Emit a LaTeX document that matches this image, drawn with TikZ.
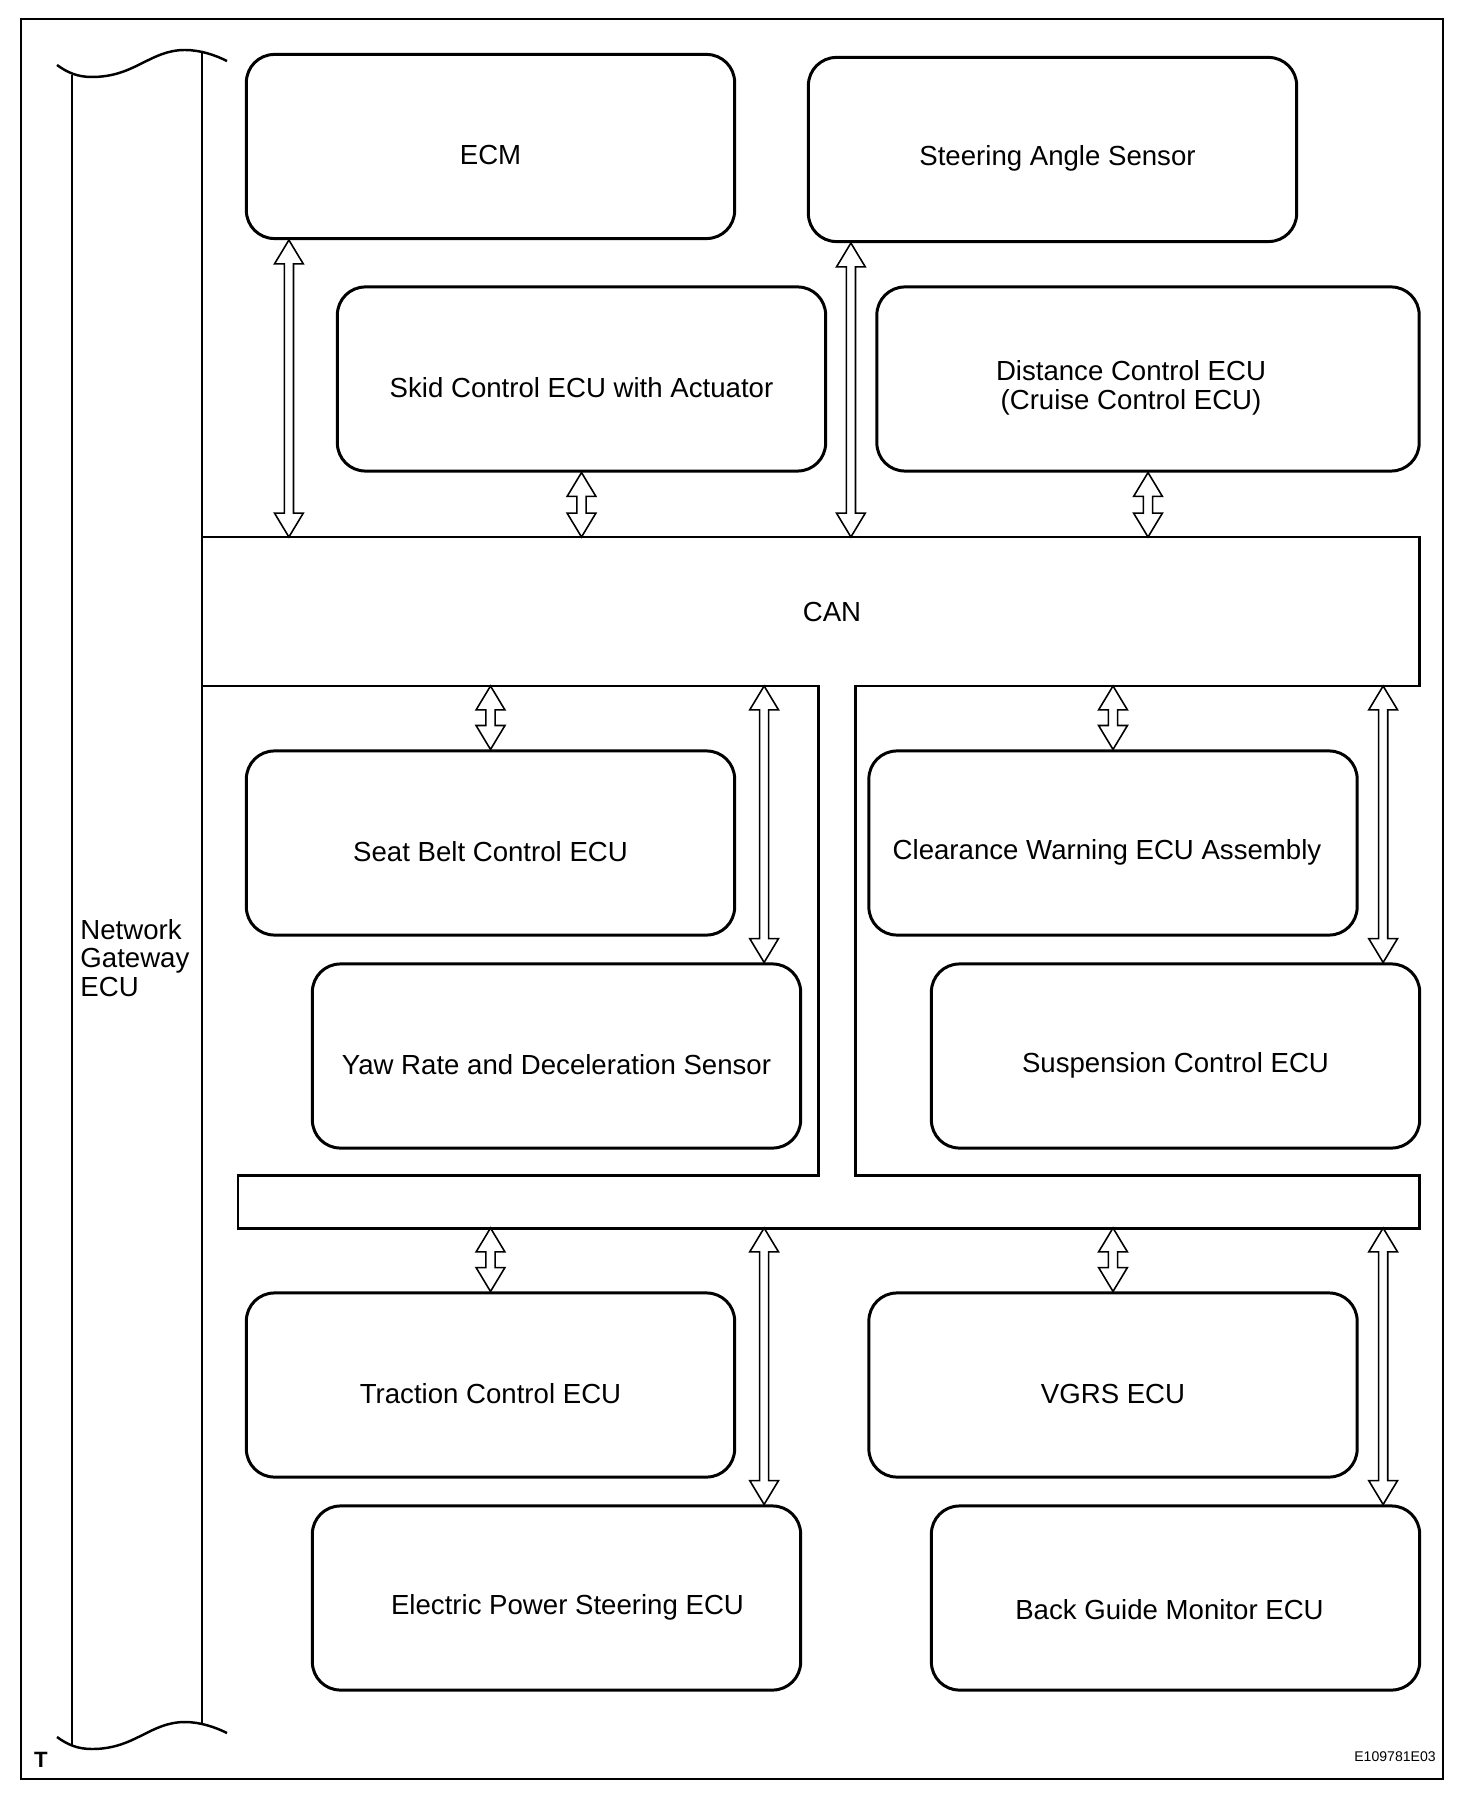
\documentclass[tikz,border=0pt]{standalone}
\usepackage{fontspec}
\setmainfont{Liberation Sans}
\usetikzlibrary{positioning,calc}

\begin{document}
\begin{tikzpicture}[x=0.01cm, y=-0.01cm, font=\fontsize{7.85}{8.2}\selectfont]
  \tikzstyle{ecu}=[draw, line width=0.85pt, rounded corners=0.28cm, minimum width=4.88cm, minimum height=1.84cm, inner sep=2pt];
  \tikzstyle{ecutext}=[align=center, yshift=-0.09cm];
  \tikzstyle{wire}=[line width=0.85pt];
  \tikzstyle{bothway}=[draw, line width=0.45pt, fill=white, to path={
    let \p1=(\tikztostart), \p2=(\tikztotarget) in
    (\p1) -- (\x1+4.1pt,\y1-6.8pt) -- (\x1+1.3pt,\y1-6.8pt) -- (\x1+1.3pt,\y2+6.8pt)
    -- (\x1+4.1pt,\y2+6.8pt) -- (\x1,\y2) -- (\x1-4.1pt,\y2+6.8pt) -- (\x1-1.3pt,\y2+6.8pt)
    -- (\x1-1.3pt,\y1-6.8pt) -- (\x1-4.1pt,\y1-6.8pt) -- cycle}];

  \useasboundingbox (0,0) rectangle (1456,1798);
  \draw[line width=0.6pt] (21,19) rectangle (1443,1779);

  \draw[wire] (72,75) -- (72,1746);
  \draw[wire] (202,51) -- (202,1723);
  \draw[line width=0.7pt] (57,65) .. controls (68,73) and (78,77) .. (92,77) .. controls (135,77) and (150,50) .. (185,50) .. controls (200,50) and (215,55) .. (227,61);
  \draw[line width=0.7pt] (57,1737) .. controls (68,1745) and (78,1749) .. (92,1749) .. controls (135,1749) and (150,1722) .. (185,1722) .. controls (200,1722) and (215,1727) .. (227,1733);
  \node[anchor=west, align=left] (gateway) at (68,958) {Network\\Gateway\\ECU};

  \draw[wire] (202,537) -- (1419,537) -- (1419,686) -- (855,686) -- (855,1175) -- (1419,1175)
    -- (1419,1228) -- (238,1228) -- (238,1175) -- (818,1175) -- (818,686) -- (202,686);
  \coordinate (cantop) at (0,537);
  \coordinate (canbot) at (0,686);
  \coordinate (busbot) at (0,1228);
  \node (can) at (832,612) {CAN};

  \node[ecu, label={[ecutext]center:ECM}] (ecm) at (490.5,146.5) {};
  \node[ecu, label={[ecutext, xshift=0.05cm]center:Steering Angle Sensor}] (steer) at (1052.5,149.5) {};
  \node[ecu, label={[ecutext]center:Skid Control ECU with Actuator}] (skid) at (581.5,379) {};
  \node[ecu, minimum width=5.42cm, label={[ecutext, xshift=-0.17cm]center:Distance Control ECU\\(Cruise Control ECU)}] (dist) at (1148,379) {};
  \node[ecu, label={[ecutext]center:Seat Belt Control ECU}] (seat) at (490.5,843) {};
  \node[ecu, label={[ecutext]center:Yaw Rate and Deceleration Sensor}] (yaw) at (556.5,1056) {};
  \node[ecu, label={[ecutext, xshift=-0.06cm]center:Clearance Warning ECU Assembly}] (clear) at (1113,843) {};
  \node[ecu, label={[ecutext]center:Suspension Control ECU}] (susp) at (1175.5,1056) {};
  \node[ecu, label={[ecutext]center:Traction Control ECU}] (trac) at (490.5,1385) {};
  \node[ecu, label={[ecutext, xshift=0.11cm]center:Electric Power Steering ECU}] (eps) at (556.5,1598) {};
  \node[ecu, label={[ecutext]center:VGRS ECU}] (vgrs) at (1113,1385) {};
  \node[ecu, label={[ecutext, xshift=-0.06cm, yshift=-0.03cm]center:Back Guide Monitor ECU}] (bgm) at (1175.5,1598) {};

  \coordinate (ecmport)   at ([xshift=0.44cm]ecm.south west);
  \coordinate (steerport) at ([xshift=0.44cm]steer.south west);
  \coordinate (yawport)   at ([xshift=-0.38cm]yaw.north east);
  \coordinate (suspport)  at ([xshift=-0.38cm]susp.north east);
  \coordinate (epsport)   at ([xshift=-0.38cm]eps.north east);
  \coordinate (bgmport)   at ([xshift=-0.38cm]bgm.north east);

  \path[bothway] (ecmport) to (ecmport |- cantop);
  \path[bothway] (skid.south) to (skid.south |- cantop);
  \path[bothway] (steerport) to (steerport |- cantop);
  \path[bothway] (dist.south) to (dist.south |- cantop);
  \path[bothway] (seat.north |- canbot) to (seat.north);
  \path[bothway] (yawport |- canbot) to (yawport);
  \path[bothway] (clear.north |- canbot) to (clear.north);
  \path[bothway] (suspport |- canbot) to (suspport);
  \path[bothway] (trac.north |- busbot) to (trac.north);
  \path[bothway] (epsport |- busbot) to (epsport);
  \path[bothway] (vgrs.north |- busbot) to (vgrs.north);
  \path[bothway] (bgmport |- busbot) to (bgmport);

  \node[font=\fontsize{6.3}{7}\selectfont\bfseries] (tmark) at (41,1760) {T};
  \node[font=\fontsize{4}{4.5}\selectfont] (figcode) at (1395,1757) {E109781E03};
\end{tikzpicture}
\end{document}
